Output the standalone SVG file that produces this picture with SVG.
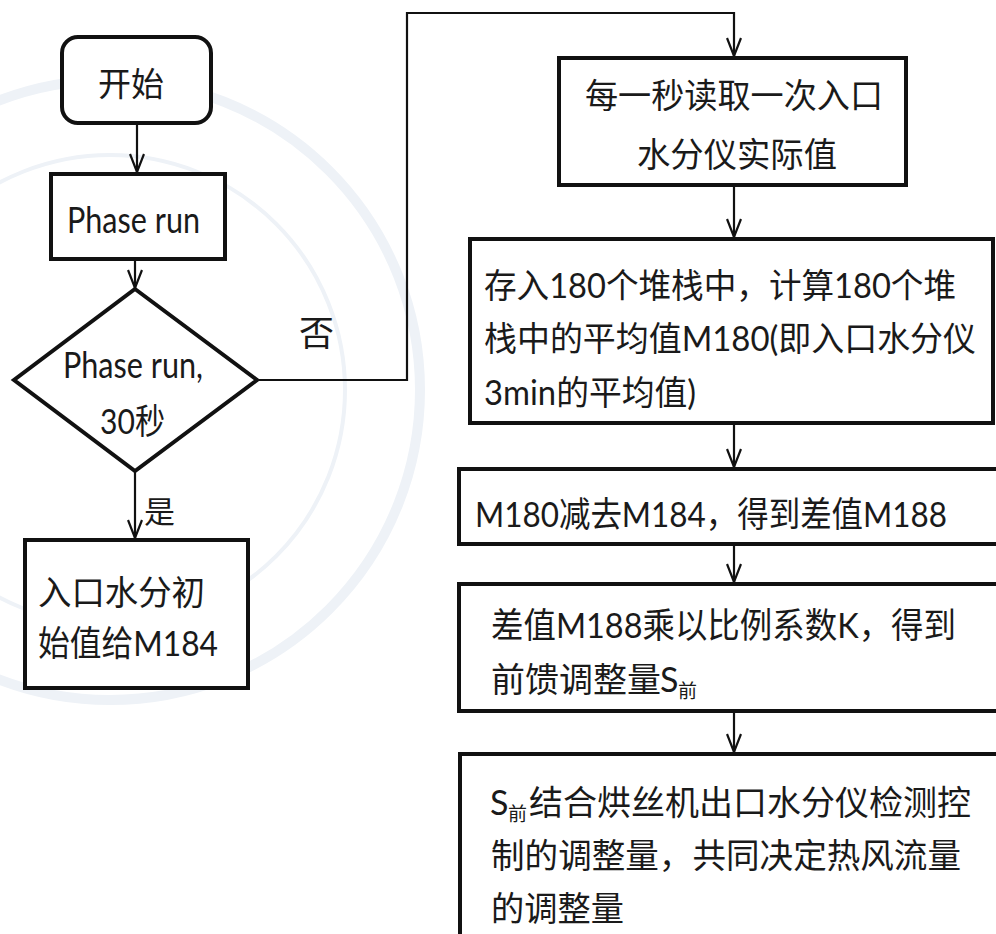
<svg xmlns="http://www.w3.org/2000/svg" width="996" height="934" viewBox="0 0 996 934" font-size="33">
<style>
.box{fill:#fff;stroke:#111;stroke-width:4}
.wm{fill:none;stroke:#eef2f7}
.con{fill:none;stroke:#111;stroke-width:2.2}
text{font-family:Lato,"Noto Sans CJK SC",sans-serif;fill:#1a1a1a}
</style>
<defs>
<marker id="arr" viewBox="0 0 20 16" refX="19" refY="8" markerWidth="20" markerHeight="16" markerUnits="userSpaceOnUse" orient="auto">
<path d="M1,1 L19,8 L1,15" fill="none" stroke="#111" stroke-width="2.2"/>
</marker>
</defs>
<rect width="996" height="934" fill="#fff"/>
<g id="watermark">
<circle class="wm" cx="110" cy="390" r="310" stroke-width="10"/>
<circle class="wm" cx="110" cy="390" r="235" stroke-width="4"/>
</g>
<g id="connectors">
<line class="con" x1="137" y1="123" x2="137" y2="172" marker-end="url(#arr)"/>
<line class="con" x1="135" y1="259" x2="135" y2="288" marker-end="url(#arr)"/>
<line class="con" x1="135" y1="471" x2="135" y2="538" marker-end="url(#arr)"/>
<polyline class="con" points="257,380 407,380 407,13 734,13 734,56" marker-end="url(#arr)"/>
<line class="con" x1="734" y1="185" x2="734" y2="237" marker-end="url(#arr)"/>
<line class="con" x1="734" y1="423" x2="734" y2="467" marker-end="url(#arr)"/>
<line class="con" x1="734" y1="544" x2="734" y2="582" marker-end="url(#arr)"/>
<line class="con" x1="734" y1="711" x2="734" y2="752" marker-end="url(#arr)"/>
<text x="299" y="346" font-size="35">否</text>
<text x="144" y="523" font-size="31">是</text>
</g>
<g id="start">
<rect class="box" x="62" y="37" width="149" height="86" rx="16"/>
<text x="131" y="96" text-anchor="middle">开始</text>
</g>
<g id="phase-run">
<rect class="box" x="51" y="174" width="174" height="85"/>
<text x="67" y="233" font-size="37" textLength="133" lengthAdjust="spacingAndGlyphs">Phase run</text>
</g>
<g id="decision">
<polygon class="box" points="135,289 257,380 135,471 14,380"/>
<text x="63" y="378" font-size="37" textLength="140" lengthAdjust="spacingAndGlyphs">Phase run,</text>
<text x="100" y="434" font-size="35" textLength="65" lengthAdjust="spacingAndGlyphs">30秒</text>
</g>
<g id="init">
<rect class="box" x="25" y="540" width="223" height="148"/>
<text x="38" y="605" font-size="34" textLength="167" lengthAdjust="spacingAndGlyphs">入口水分初</text>
<text x="38" y="656" font-size="35" textLength="180" lengthAdjust="spacingAndGlyphs">始值给M184</text>
</g>
<g id="read">
<rect class="box" x="559" y="58" width="347" height="127"/>
<text x="585" y="108" font-size="34" textLength="298" lengthAdjust="spacingAndGlyphs">每一秒读取一次入口</text>
<text x="637" y="167" font-size="34" textLength="200" lengthAdjust="spacingAndGlyphs">水分仪实际值</text>
</g>
<g id="stack">
<rect class="box" x="470" y="239" width="523" height="184"/>
<text x="484" y="298" font-size="34" textLength="472" lengthAdjust="spacingAndGlyphs">存入180个堆栈中，计算180个堆</text>
<text x="484" y="351" font-size="34" textLength="492" lengthAdjust="spacingAndGlyphs">栈中的平均值M180(即入口水分仪</text>
<text x="484" y="405" font-size="34" textLength="212" lengthAdjust="spacingAndGlyphs">3min的平均值)</text>
</g>
<g id="diff">
<rect class="box" x="459" y="469" width="560" height="75"/>
<text x="475" y="527" font-size="35" textLength="472" lengthAdjust="spacingAndGlyphs">M180减去M184，得到差值M188</text>
</g>
<g id="gain">
<rect class="box" x="459" y="584" width="560" height="127"/>
<text x="491" y="638" font-size="35" textLength="465" lengthAdjust="spacingAndGlyphs">差值M188乘以比例系数K，得到</text>
<text y="692" font-size="34"><tspan x="491">前馈调整量</tspan><tspan x="660">S</tspan><tspan x="678" dy="6" font-size="19">前</tspan></text>
</g>
<g id="combine">
<rect class="box" x="460" y="754" width="560" height="200"/>
<text y="815" font-size="34"><tspan x="490">S</tspan><tspan x="508" dy="6" font-size="19">前</tspan><tspan x="529" dy="-6">结合烘丝机出口水分仪检测控</tspan></text>
<text x="491" y="868" font-size="34" textLength="470" lengthAdjust="spacingAndGlyphs">制的调整量，共同决定热风流量</text>
<text x="491" y="921" font-size="34" textLength="133" lengthAdjust="spacingAndGlyphs">的调整量</text>
</g>
</svg>
